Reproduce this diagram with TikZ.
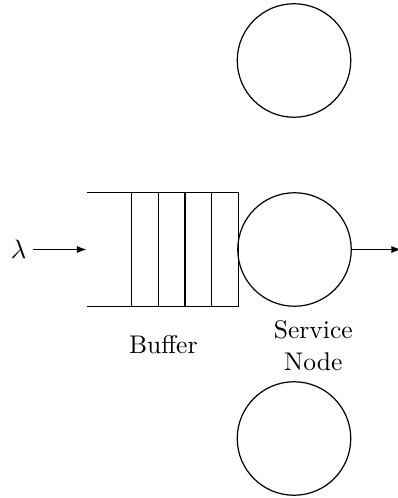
\documentclass[tikz,border=0pt]{standalone}
\usetikzlibrary{arrows.meta}
\begin{document}
\begin{tikzpicture}[x=0.4115pt,y=-0.4115pt,
    server/.style={draw,circle,inner sep=0pt,minimum size=113.5*0.4115pt,line width=0.5pt},
    wire/.style={line width=0.5pt},
    flow/.style={wire,-{Latex[length=4pt,width=3pt]}},
    lbl/.style={inner sep=0pt,align=center,anchor=base,font=\fontsize{10.5}{13}\selectfont}]
  \useasboundingbox (0,0) rectangle (398,498);

  % servers
  \node[server] (top) at (294,60.5) {};
  \node[server] (srv) at (294.5,249.5) {};
  \node[server] (bot) at (294,438.5) {};

  % buffer area
  \node[inner sep=0pt,minimum width=150.7*0.4115pt,minimum height=113.3*0.4115pt] (buf) at (162.35,249.5) {};
  \draw[wire] (buf.north west) -- (buf.north east) -- (buf.south east) -- (buf.south west);
  \foreach \x in {131.7,158.3,185,211.7}
    \draw[wire] (\x,193) -- (\x,306);

  % arrival and departure
  \node[lbl] (lam) at (18.7,258.5) {$\lambda$};
  \coordinate (in) at (33.3,249.5);
  \coordinate (out) at (401,249.5);
  \draw[flow] (in) -- (buf.west);
  \draw[flow] (srv.east) -- (out);

  % labels (base anchor of a two-line node sits on its last line)
  \node[lbl] (buflbl) at (163.3,353.7) {Buffer};
  \node[lbl] (srvlbl) at (313.3,370) {Service\\Node};
\end{tikzpicture}
\end{document}
